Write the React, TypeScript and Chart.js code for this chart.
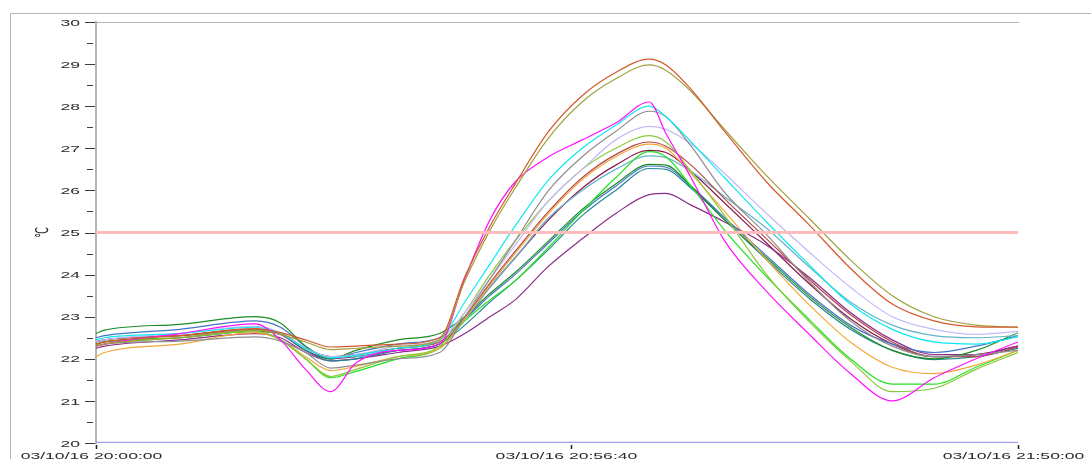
import React, { useEffect, useRef } from 'react';
import { Chart, registerables } from 'chart.js';

Chart.register(...registerables);

// time in minutes after 03/10/16 20:00:00
const times = [0, 1, 10, 19, 22, 25, 28, 31, 36, 41, 44, 47, 50, 54, 58, 62, 66, 68, 71, 75, 80, 85, 90, 95, 100, 105, 110];

const orangeRed = [22.35, 22.4, 22.55, 22.72, 22.62, 22.45, 22.28, 22.3, 22.35, 22.5, 23.95, 25.15, 26.15, 27.4, 28.25, 28.8, 29.12, 28.98, 28.4, 27.4, 26.2, 25.2, 24.15, 23.3, 22.9, 22.76, 22.75];
const olive = [22.3, 22.35, 22.5, 22.68, 22.58, 22.4, 22.22, 22.25, 22.3, 22.45, 23.85, 25.05, 26.05, 27.25, 28.1, 28.65, 28.98, 28.85, 28.35, 27.45, 26.35, 25.35, 24.35, 23.5, 23.0, 22.8, 22.75];
const magenta = [22.3, 22.35, 22.6, 22.83, 22.45, 21.75, 21.22, 21.9, 22.2, 22.35, 23.9, 25.3, 26.2, 26.8, 27.2, 27.6, 28.1, 27.35, 26.3, 24.8, 23.6, 22.6, 21.65, 21.0, 21.55, 22.0, 22.4];
const cyan = [22.45, 22.5, 22.6, 22.75, 22.6, 22.25, 22.02, 22.08, 22.25, 22.45, 23.35, 24.25, 25.15, 26.25, 27.0, 27.55, 28.0, 27.75, 27.15, 26.3, 25.25, 24.25, 23.3, 22.7, 22.4, 22.35, 22.52];
const gray = [22.3, 22.35, 22.42, 22.52, 22.42, 22.15, 21.78, 21.85, 22.0, 22.15, 23.0, 23.9, 24.8, 26.0, 26.8, 27.4, 27.88, 27.75, 27.05, 25.95, 24.95, 23.85, 22.9, 22.3, 22.05, 22.1, 22.2];
const lavender = [22.4, 22.45, 22.6, 22.77, 22.62, 22.25, 22.05, 22.1, 22.3, 22.45, 23.1, 23.9, 24.7, 25.75, 26.5, 27.2, 27.52, 27.45, 27.1, 26.4, 25.45, 24.55, 23.7, 23.0, 22.7, 22.58, 22.65];
const yellowGreen = [22.3, 22.35, 22.5, 22.65, 22.45, 22.0, 21.58, 21.75, 22.05, 22.3, 23.1, 24.0, 24.8, 25.75, 26.5, 27.0, 27.3, 27.15, 26.45, 25.4, 24.0, 22.9, 21.95, 21.22, 21.3, 21.75, 22.15];
const brownRed = [22.4, 22.45, 22.55, 22.7, 22.62, 22.25, 22.05, 22.1, 22.25, 22.4, 23.0, 23.8, 24.55, 25.5, 26.3, 26.85, 27.15, 27.05, 26.6, 25.8, 24.85, 23.9, 23.05, 22.4, 22.05, 22.05, 22.28];
const orange = [22.05, 22.15, 22.35, 22.62, 22.45, 22.05, 21.72, 21.82, 22.05, 22.25, 22.95, 23.75, 24.5, 25.45, 26.25, 26.8, 27.1, 27.0, 26.4, 25.5, 24.35, 23.3, 22.4, 21.8, 21.65, 21.85, 22.2];
const green = [22.35, 22.4, 22.5, 22.65, 22.45, 22.0, 21.55, 21.7, 22.0, 22.25, 22.9, 23.4, 23.85, 24.65, 25.5, 26.3, 26.92, 26.8, 26.1, 25.05, 23.95, 22.95, 22.0, 21.4, 21.4, 21.8, 22.2];
const lightTeal = [22.4, 22.45, 22.55, 22.7, 22.6, 22.25, 22.05, 22.05, 22.25, 22.4, 22.95, 23.7, 24.4, 25.35, 26.0, 26.5, 26.82, 26.78, 26.45, 25.85, 25.1, 24.2, 23.35, 22.8, 22.55, 22.5, 22.55];
const darkGreen = [22.6, 22.68, 22.82, 23.0, 22.85, 22.3, 22.0, 22.2, 22.45, 22.6, 23.0, 23.55, 24.05, 24.8, 25.55, 26.15, 26.62, 26.6, 26.1, 25.3, 24.4, 23.5, 22.75, 22.2, 22.0, 22.2, 22.62];
const blue = [22.5, 22.55, 22.7, 22.9, 22.75, 22.3, 22.0, 22.15, 22.35, 22.5, 22.95, 23.5, 24.0, 24.75, 25.5, 26.1, 26.58, 26.55, 26.1, 25.35, 24.45, 23.55, 22.8, 22.35, 22.15, 22.3, 22.55];
const teal = [22.4, 22.45, 22.55, 22.7, 22.6, 22.2, 21.95, 22.0, 22.2, 22.35, 22.8, 23.35, 23.85, 24.6, 25.4, 26.0, 26.52, 26.5, 26.05, 25.3, 24.35, 23.45, 22.7, 22.2, 21.98, 22.05, 22.25];
const purple = [22.25, 22.3, 22.45, 22.6, 22.5, 22.15, 21.95, 22.0, 22.15, 22.3, 22.6, 23.0, 23.4, 24.2, 24.85, 25.45, 25.9, 25.93, 25.65, 25.25, 24.7, 23.95, 23.1, 22.45, 22.1, 22.1, 22.3];
const maroon = [22.35, 22.4, 22.5, 22.65, 22.58, 22.2, 22.0, 22.05, 22.2, 22.35, 22.95, 23.7, 24.4, 25.3, 26.05, 26.6, 26.95, 26.9, 26.45, 25.7, 24.75, 23.8, 22.95, 22.35, 22.05, 22.1, 22.3];

const seriesList = [orangeRed, olive, magenta, cyan, gray, lavender, yellowGreen, brownRed, orange, green, lightTeal, darkGreen, blue, teal, purple, maroon];
const seriesColors = ['#d4582c', '#a0a03c', '#ff10ff', '#10e8f0', '#8e8e8e', '#c4b8fa', '#8cc83c', '#b44848', '#f4a838', '#22e022', '#64b4c8', '#1e8c28', '#4474c8', '#248894', '#8c2c8c', '#8c1a4c'];

const upperLimit = 25;
const lowerLimit = 20;

const xTickValues = [0, 56.6667, 110];
const xTickLabels = ['03/10/16 20:00:00', '03/10/16 20:56:40', '03/10/16 21:50:00'];
const yMajorTicks = [20, 21, 22, 23, 24, 25, 26, 27, 28, 29, 30];
const yMinorTicks = [20.5, 21.5, 22.5, 23.5, 24.5, 25.5, 26.5, 27.5, 28.5, 29.5];
const yUnit = '℃';

const STRETCH = 1.85;
const FONT = '9.5px "Liberation Sans", Arial, "DejaVu Sans", sans-serif';

const decorPlugin = {
  id: 'decor',
  beforeDraw(chart: any) {
    const ctx = chart.ctx;
    const area = chart.chartArea;
    ctx.save();
    ctx.fillStyle = '#ffffff';
    ctx.fillRect(0, 0, chart.width, chart.height);
    ctx.strokeStyle = '#b4b4b4';
    ctx.lineWidth = 1;
    ctx.beginPath();
    ctx.moveTo(10.5, chart.height);
    ctx.lineTo(10.5, 13.5);
    ctx.lineTo(chart.width, 13.5);
    ctx.moveTo(area.left, area.top + 0.5);
    ctx.lineTo(area.right + 1, area.top + 0.5);
    ctx.stroke();
    ctx.restore();
  },
  afterDraw(chart: any) {
    const ctx = chart.ctx;
    const xs = chart.scales.x;
    const ys = chart.scales.y;
    const area = chart.chartArea;
    const left = area.left;
    ctx.save();
    ctx.strokeStyle = '#3c3c3c';
    ctx.lineWidth = 1;
    ctx.beginPath();
    yMajorTicks.forEach((v) => {
      const py = Math.round(ys.getPixelForValue(v)) + 0.5;
      ctx.moveTo(left - 11, py);
      ctx.lineTo(left - 1, py);
    });
    yMinorTicks.forEach((v) => {
      const py = Math.round(ys.getPixelForValue(v)) + 0.5;
      ctx.moveTo(left - 9, py);
      ctx.lineTo(left - 3, py);
    });
    ctx.stroke();
    ctx.lineWidth = 1.5;
    ctx.strokeStyle = '#222';
    ctx.beginPath();
    xTickValues.forEach((v) => {
      const px = Math.round(xs.getPixelForValue(v)) + 0.5;
      ctx.moveTo(px, area.bottom + 2);
      ctx.lineTo(px, area.bottom + 6);
    });
    ctx.stroke();

    ctx.fillStyle = '#2a2a2a';
    ctx.font = FONT;
    ctx.textBaseline = 'alphabetic';
    ctx.textAlign = 'right';
    yMajorTicks.forEach((v) => {
      const py = ys.getPixelForValue(v);
      ctx.save();
      ctx.translate(left - 16, py + 3.6);
      ctx.scale(STRETCH, 1);
      ctx.fillText(String(v), 0, 0);
      ctx.restore();
    });
    ctx.textAlign = 'center';
    xTickValues.forEach((v, i) => {
      const px = xs.getPixelForValue(v);
      ctx.save();
      ctx.translate(px - 4.5, area.bottom + 15.5);
      ctx.scale(STRETCH, 1);
      ctx.fillText(xTickLabels[i], 0, 0);
      ctx.restore();
    });
    // axis unit
    ctx.save();
    ctx.translate(43, ys.getPixelForValue(upperLimit));
    ctx.scale(STRETCH, 1);
    ctx.rotate(-Math.PI / 2);
    ctx.textBaseline = 'middle';
    ctx.textAlign = 'center';
    ctx.font = '9.5px "DejaVu Sans", "Liberation Sans", sans-serif';
    ctx.fillText(yUnit, 0, 0);
    ctx.restore();
    ctx.restore();
  },
};

export default function App() {
  const ref = useRef<HTMLCanvasElement | null>(null);

  useEffect(() => {
    if (!ref.current) return;
    const first = times[0];
    const last = times[times.length - 1];
    const datasets: any[] = [
      {
        data: [{ x: first, y: upperLimit }, { x: last, y: upperLimit }],
        borderColor: '#ffbcbc',
        borderWidth: 3,
        pointRadius: 0,
      },
      {
        data: [{ x: first, y: lowerLimit }, { x: last, y: lowerLimit }],
        borderColor: '#9e9ef6',
        borderWidth: 2.5,
        pointRadius: 0,
      },
      ...seriesList.map((vals, k) => ({
        data: times.map((t, i) => ({ x: t, y: vals[i] })),
        borderColor: seriesColors[k],
        borderWidth: 1.2,
        pointRadius: 0,
        cubicInterpolationMode: 'monotone',
        fill: false,
      })),
    ];
    const chart = new Chart(ref.current, {
      type: 'line',
      data: { datasets },
      options: {
        responsive: false,
        animation: false,
        devicePixelRatio: 1,
        layout: { padding: { left: 0, right: 73, top: 22, bottom: 0 } },
        plugins: { legend: { display: false }, tooltip: { enabled: false } },
        scales: {
          x: {
            type: 'linear',
            min: 0,
            max: 110,
            grid: { display: false },
            border: { display: false },
            ticks: { display: false },
            afterFit: (s: any) => {
              s.height = 16;
              s.paddingLeft = 0;
              s.paddingRight = 0;
            },
          },
          y: {
            min: 20,
            max: 30,
            grid: { display: true, drawOnChartArea: false, drawTicks: false },
            border: { display: true, color: '#b4b4b4', width: 2 },
            ticks: { display: false },
            afterFit: (s: any) => {
              s.width = 96;
              s.paddingTop = 0;
              s.paddingBottom = 0;
            },
          },
        },
      } as any,
      plugins: [decorPlugin],
    });
    return () => chart.destroy();
  }, []);

  return (
    <canvas
      ref={ref}
      width={1091}
      height={459}
      style={{ position: 'fixed', left: 0, top: 0, width: 1091, height: 459, display: 'block' }}
    />
  );
}
